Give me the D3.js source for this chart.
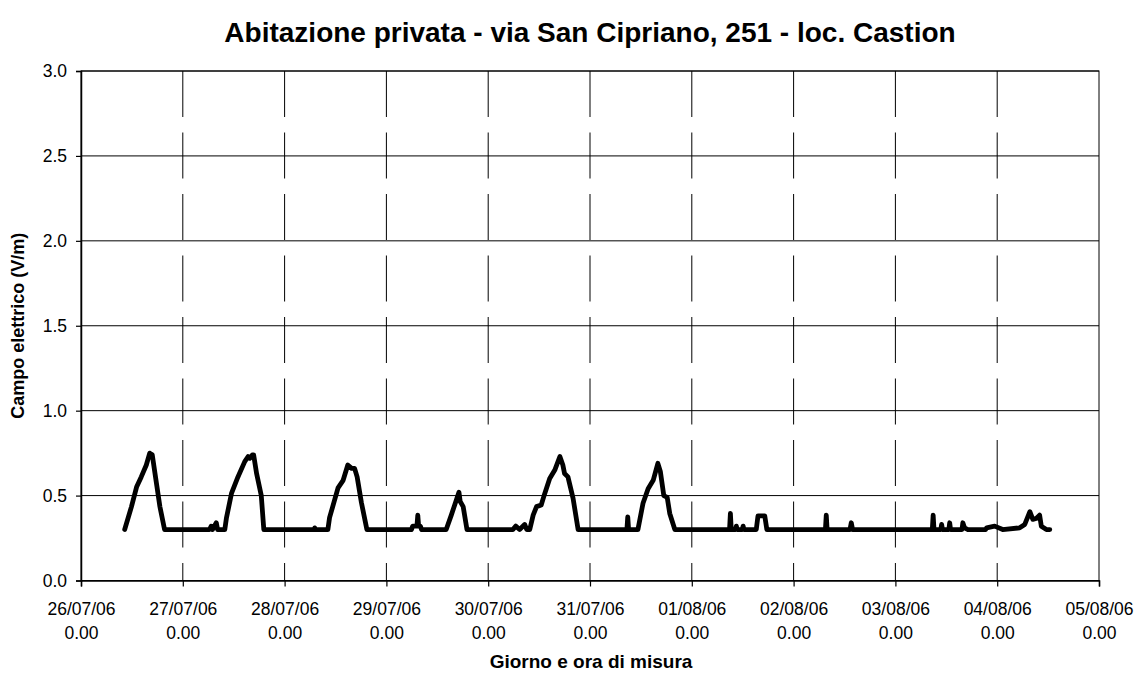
<!DOCTYPE html>
<html><head><meta charset="utf-8">
<script src="https://cdn.jsdelivr.net/npm/d3@7"></script>
<style>
html,body{margin:0;padding:0;background:#fff;}
text{font-family:"Liberation Sans",Arial,sans-serif;fill:#000;}
</style></head>
<body>
<svg id="chart" width="1139" height="691"></svg>
<script>
// ---- data ----
const chartTitle = "Abitazione privata - via San Cipriano, 251 - loc. Castion";
const yAxisTitle = "Campo elettrico (V/m)";
const xAxisTitle = "Giorno e ora di misura";
const startDate = "2006-07-26T00:00:00";
const endDate = "2006-08-05T00:00:00";
const yTicks = [0, 0.5, 1.0, 1.5, 2.0, 2.5, 3.0];
// hours elapsed since 26/07/06 0.00
const hoursSinceStart = [
 10.3,11.9,13.1,14.2,15.4,16.2,16.8,17.8,18.6,19.7,
 30.3,30.7,31.0,31.9,32.2,33.9,34.3,35.5,37.0,38.6,39.4,39.8,40.4,40.7,41.4,42.5,43.1,
 55.0,55.1,55.3,58.2,58.6,60.6,61.8,62.9,63.8,64.5,65.1,66.1,67.4,
 77.9,78.2,79.2,79.4,79.6,80.0,80.3,
 86.1,87.3,88.1,89.1,89.4,90.1,91.0,
 101.8,102.5,103.4,104.6,105.1,105.8,106.6,107.4,108.5,109.3,110.5,111.7,112.9,113.6,114.0,114.8,116.0,117.2,
 128.7,128.9,129.1,131.3,132.5,133.7,134.9,136.0,136.6,137.4,138.2,138.8,140.0,
 152.9,153.1,153.3,154.3,154.5,154.7,155.9,156.1,156.3,159.2,159.6,161.2,161.7,
 175.5,175.7,175.9,181.3,181.6,181.9,
 200.7,200.9,201.1,202.7,202.9,203.1,204.6,204.8,205.0,207.7,207.9,208.3,209.1,
 213.3,213.5,215.4,217.3,221.3,222.5,223.7,224.4,225.2,226.0,226.4,227.6,228.4
];
const fieldValues = [
 0.30,0.435,0.55,0.61,0.68,0.75,0.74,0.57,0.435,0.30,
 0.30,0.32,0.30,0.34,0.30,0.30,0.37,0.515,0.61,0.70,0.73,0.72,0.74,0.74,0.63,0.50,0.30,
 0.30,0.31,0.30,0.30,0.37,0.545,0.59,0.68,0.66,0.66,0.61,0.46,0.30,
 0.30,0.32,0.32,0.385,0.32,0.32,0.30,
 0.30,0.385,0.445,0.52,0.465,0.435,0.30,
 0.30,0.32,0.30,0.33,0.30,0.30,0.385,0.435,0.445,0.51,0.60,0.65,0.73,0.68,0.63,0.61,0.485,0.30,
 0.30,0.375,0.30,0.30,0.455,0.54,0.59,0.69,0.64,0.50,0.49,0.395,0.30,
 0.30,0.395,0.30,0.30,0.32,0.30,0.30,0.32,0.30,0.30,0.38,0.38,0.30,
 0.30,0.385,0.30,0.30,0.34,0.30,
 0.30,0.385,0.30,0.30,0.33,0.30,0.30,0.34,0.30,0.30,0.34,0.31,0.30,
 0.30,0.31,0.32,0.30,0.31,0.33,0.405,0.36,0.365,0.385,0.32,0.30,0.30
];

// ---- layout ----
const svg = d3.select("#chart");
const L = 81, R = 1099, T = 71, B = 580.5;
const t0 = new Date(startDate), t1 = new Date(endDate);
const x = d3.scaleTime().domain([t0, t1]).range([L, R]);
const y = d3.scaleLinear().domain([0, 3]).range([B, T]);
const xTickDates = d3.timeDay.range(t0, d3.timeDay.offset(t1, 1));

const pts = hoursSinceStart.map((h, i) => ({t: new Date(t0.getTime() + h * 3600e3), v: fieldValues[i]}));

// horizontal grid
svg.append("g").selectAll("line").data(yTicks).join("line")
  .attr("x1", L).attr("x2", R).attr("y1", d => y(d)).attr("y2", d => y(d))
  .attr("stroke", "#000").attr("stroke-width", 1);

// vertical dashed grid
svg.append("g").selectAll("line").data(xTickDates.slice(1, -1)).join("line")
  .attr("x1", d => x(d)).attr("x2", d => x(d)).attr("y1", T).attr("y2", B)
  .attr("stroke", "#000").attr("stroke-width", 1).attr("stroke-dasharray", "46,15.5");

// plot border
svg.append("rect").attr("x", L).attr("y", T).attr("width", R - L).attr("height", B - T)
  .attr("fill", "none").attr("stroke", "#000").attr("stroke-width", 1);

// axes
const fmtDate = d3.timeFormat("%d/%m/%y");
const xAxis = svg.append("g").attr("transform", `translate(0,${B})`)
  .call(d3.axisBottom(x).tickValues(xTickDates).tickSize(6).tickFormat(() => ""));
xAxis.select(".domain").attr("stroke", "#000").attr("stroke-width", 1.5);
xAxis.selectAll(".tick line").attr("stroke", "#000").attr("stroke-width", 1.2);
xAxis.selectAll(".tick").each(function(d) {
  const g = d3.select(this);
  const tx = g.append("text").attr("text-anchor", "middle").style("font-size", "17.5px").attr("fill", "#000");
  tx.append("tspan").attr("x", 0).attr("y", 34).text(fmtDate(d));
  tx.append("tspan").attr("x", 0).attr("y", 58).text("0.00");
});

const yAxis = svg.append("g").attr("transform", `translate(${L},0)`)
  .call(d3.axisLeft(y).tickValues(yTicks).tickSize(5).tickPadding(9).tickFormat(d3.format(".1f")));
yAxis.select(".domain").attr("stroke", "#000").attr("stroke-width", 1.5);
yAxis.selectAll(".tick line").attr("stroke", "#000").attr("stroke-width", 1.2);
yAxis.selectAll(".tick text").style("font-size", "17.5px").attr("fill", "#000")
  .style("font-family", '"Liberation Sans",Arial,sans-serif');
xAxis.selectAll("text").style("font-family", '"Liberation Sans",Arial,sans-serif');

// data line
svg.append("path").datum(pts)
  .attr("d", d3.line().x(d => x(d.t)).y(d => y(d.v)))
  .attr("fill", "none").attr("stroke", "#000").attr("stroke-width", 4.8)
  .attr("stroke-linejoin", "round").attr("stroke-linecap", "round");

// titles
svg.append("text").attr("x", 590).attr("y", 42).attr("text-anchor", "middle")
  .style("font-size", "28px").style("font-weight", "bold").text(chartTitle);
svg.append("text").attr("transform", `translate(24,${(T + B) / 2}) rotate(-90)`)
  .attr("text-anchor", "middle").style("font-size", "18px").style("font-weight", "bold").text(yAxisTitle);
svg.append("text").attr("x", 591).attr("y", 668).attr("text-anchor", "middle")
  .style("font-size", "19px").style("font-weight", "bold").text(xAxisTitle);
</script>
</body></html>
